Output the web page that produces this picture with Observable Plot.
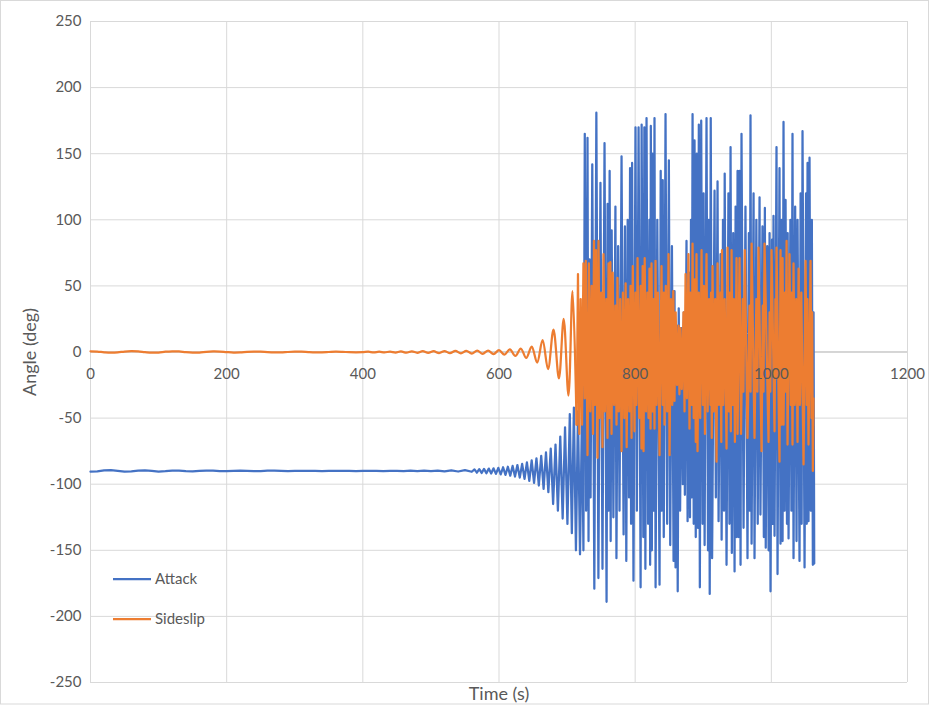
<!DOCTYPE html>
<html><head><meta charset="utf-8">
<script src="https://cdn.jsdelivr.net/npm/d3@7"></script>
<script src="https://cdn.jsdelivr.net/npm/@observablehq/plot@0.6"></script>
<style>body{margin:0;background:#fff}#chart{width:929px;height:705px}</style>
</head><body><div id="chart"></div>
<script>
const xTicks = [0, 200, 400, 600, 800, 1000, 1200];
const yTicks = [-250, -200, -150, -100, -50, 0, 50, 100, 150, 200, 250];
const seriesNames = ["Attack", "Sideslip"];
const seriesColors = ["#4472C4", "#ED7D31"];

// early quiet part, sampled every 10 s from t = 0
const earlyStep = 10;
const attackEarly = [-90.5,-90.3,-89.6,-89.4,-89.9,-90.4,-90.3,-89.8,-89.6,-90.0,-90.4,-90.2,-89.7,-89.7,-90.1,-90.3,-90.0,-89.7,-89.8,-90.2,-90.2,-89.9,-89.7,-89.9,-90.2,-90.1,-89.8,-89.8,-90.0,-90.1,-90.0,-89.9,-89.9,-90.0,-90.1,-90.0,-89.9,-90.0,-90.0,-90.1,-90.0,-89.9,-90.0,-90.1,-89.9,-90.0,-90.1,-89.8,-90.2,-89.8,-90.2,-89.7,-90.3,-89.6,-90.4,-89.4,-90.6];
const sideslipEarly = [0.5,0.3,-0.2,-0.5,-0.3,0.3,0.6,0.4,-0.1,-0.5,-0.4,0.2,0.5,0.4,-0.1,-0.4,-0.4,0.1,0.4,0.3,-0.1,-0.4,-0.3,0.1,0.3,0.2,-0.1,-0.3,-0.3,0.0,0.2,0.2,-0.1,-0.3,-0.2,0.0,0.2,0.1,-0.1,-0.2,-0.1];

// growing oscillation [time, angle]
const attackGrowth = [[564,-88.8],[567.5,-91.3],[571,-88.6],[574.5,-91.5],[578,-88.4],[581.5,-91.7],[585,-88.2],[588.5,-91.9],[592,-88.0],[595.5,-92.2],[599,-87.6],[602.5,-92.6],[606,-87.2],[609.5,-93.0],[613,-86.8],[616.5,-93.5],[620,-86.2],[623.5,-94.2],[627,-85.5],[630.5,-95],[634,-84.6],[637.5,-96],[641,-83.5],[644.5,-97.5],[648,-82],[651.5,-99],[655,-80.5],[658.5,-101],[662,-78.5],[665.5,-103.5],[669,-76],[672.5,-106],[676,-73],[679.5,-115],[683,-70],[686.5,-120],[690,-64],[693.5,-126],[697,-57],[700.5,-130],[704,-47],[707,-137],[710,-42],[713,-150],[716,-45],[719,-153],[722,-40],[724,-150]];
const sideslipGrowth = [[408,0.2],[416,-0.3],[424,0.2],[432,-0.3],[440,0.3],[448,-0.4],[456,0.4],[464,-0.5],[472,0.5],[480,-0.6],[488,0.6],[496,-0.7],[504,0.6],[512,-0.8],[520,0.7],[528,-0.9],[536,0.8],[544,-1.0],[552,0.9],[560,-1.2],[568,1.0],[576,-1.4],[584,1.1],[592,-1.6],[600,1.4],[608,-2.0],[616,2.0],[624,-3.0],[632,2.6],[640,-4.5],[648,4.0],[656,-8],[664,9],[672,-13],[680,17],[688,-20],[695,25],[702,-33],[708,46],[714,-55]];

// tumbling part [time, angle]
const attackTumble = [[726,165],[728,-120],[730,162],[731.5,-143],[733,70],[734.5,-110],[737,142],[740,-179],[743,181],[746,-171],[749,128],[752,-164],[755,158],[758,-189],[759.5,112],[761,-120],[762.5,137],[764,-143],[765.5,92],[768,-125],[771,110],[772.5,-156],[775,80],[777,-120],[780,148],[783,-138],[785,95],[787,-158],[789,100],[791,-110],[792.5,139],[794,-130],[795.5,143],[797.5,-173],[800.5,170],[802.5,-120],[805,170],[808,-178],[809.5,172],[812,-140],[813.5,170],[815,-164],[816.7,177],[819,-130],[821,100],[822,-161],[823,171],[824.5,-150],[825.5,150],[827,-120],[828.4,177],[830,-178],[832.5,100],[835.8,-176],[837.5,137],[839,-120],[840.5,130],[842,-140],[844.6,180],[847,-130],[849.5,145],[851.5,-146],[854,80],[856.4,-158],[857.8,46],[859.3,-163],[861,20],[862.5,-181],[864,33],[866,-120],[868,18],[870,-100],[871.5,30],[873,-108],[875.4,84],[877,-128],[879,60],[880.5,-125],[882,100],[883,-110],[884.3,180],[886,-130],[887.2,160],[889,-140],[890.5,150],[892,-133],[893.5,172],[895,-178],[897,175],[899,-130],[900.5,120],[902,-146],[904.8,177],[907,-150],[908.2,100],[909.5,-183],[911,177],[913,-156],[916.6,122],[918.5,-110],[921,129],[922.5,-128],[925.4,74],[927,-142],[929,100],[930.5,-120],[931.5,135],[934.2,-161],[937,120],[938.5,-130],[940.1,155],[942,-152],[944,90],[946,-166],[947.5,110],[949,-140],[950.4,137],[952,-140],[953.3,137],[954.8,-161],[956.2,165],[959.2,-133],[962,110],[965,-156],[967,90],[968.2,-120],[969.4,179],[971,-145],[973.9,120],[975.3,-156],[978,100],[980,-130],[982.7,117],[984,-123],[987,95],[989,-140],[990.5,109],[991.8,-148],[994,80],[996,-150],[997.4,90],[998.8,-181],[1001,85],[1002,-130],[1003.2,103],[1004.7,-139],[1007.6,155],[1009.1,-168],[1012,139],[1013.5,-145],[1015,100],[1016.5,-143],[1017.9,174],[1019.5,-120],[1020.9,115],[1023,-130],[1024,90],[1025.3,-141],[1028,100],[1029.5,-120],[1031.1,165],[1032.6,-156],[1035,110],[1037,-143],[1038.5,100],[1041.4,-158],[1043,120],[1044.5,-130],[1045.8,167],[1048.8,-163],[1051,120],[1052,-130],[1053.2,143],[1054.6,-128],[1056.1,147],[1058,-120],[1059.5,100],[1061,-161],[1062,30],[1063,-160]];
const sideslipTumble = [[714,-55],[716,59],[718,-62],[720,40],[722,-55],[724,67],[726,-35],[727.5,69],[730,-78],[732,67],[734,-45],[736,50],[738,-62],[739.5,84],[741,-40],[742.5,77],[744.7,-80],[746.2,84],[748,-50],[750,45],[752,-72],[753.5,74],[755.5,-45],[757.5,40],[759.4,-65],[760.9,67],[762.3,-50],[763.5,68],[765.3,-62],[767,60],[769,-40],[771,35],[772.6,-55],[774,56],[776,-45],[778,40],[780,-75],[782,45],[784,-50],[786,52],[787.5,-72],[789.5,40],[791.5,-45],[793.2,50],[794.7,-65],[796.5,65],[799,-60],[800.5,45],[802,-40],[803.5,71],[806,-50],[808,50],[809.3,-73],[811,65],[812.3,-75],[814,71],[816,-45],[818,45],[819.6,-50],[821,63],[822.6,-58],[824,67],[825.5,-45],[826.9,40],[828.4,-58],[829.9,69],[831.5,-40],[833.5,45],[835.8,-78],[838.7,65],[840.5,-40],[842,45],[843.1,-55],[845,50],[847,-45],[849,74],[850.5,-78],[852.5,40],[854.5,-40],[856,46],[857.8,-37],[859.5,30],[861.5,-25],[863.7,20],[865,-32],[866.5,18],[868.5,-28],[871,30],[872.5,-45],[874,59],[876,-35],[878.3,74],[879.8,-58],[881.5,45],[883,-40],[884.3,82],[886,-50],[887.5,55],[889,-68],[890.1,74],[891.6,-75],[893.5,45],[895.5,-50],[897.5,77],[899.5,-40],[901,50],[902.5,-62],[904.8,74],[906.5,-45],[908.5,40],[910.5,-40],[911.5,45],[912.5,-65],[913.6,65],[915.5,-45],[917.5,40],[919.5,-83],[921,67],[923,-40],[925,45],[926.5,-68],[927.5,77],[929.5,-40],[931.5,40],[934.2,-73],[935.7,79],[937.5,-45],[939,45],[940.5,-60],[941.6,77],[943.5,-40],[945,40],[946.5,-68],[948.9,71],[950.4,-62],[953.3,71],[955.5,-62],[958,40],[959,-30],[961,77],[965,-65],[968,35],[969.5,-30],[971,82],[975.3,-65],[978,40],[979.5,-30],[981.2,79],[985.6,-75],[987.5,35],[988.5,-30],[990,82],[995.9,-68],[997.5,30],[998.5,-30],[1000.3,77],[1004.7,-60],[1006,40],[1006.8,-20],[1007.6,79],[1012,-83],[1013.5,77],[1015,-55],[1016.5,71],[1017.9,-55],[1020,45],[1021,-30],[1022.4,84],[1023.8,-70],[1026.7,74],[1028.5,-40],[1029.8,45],[1031.1,-70],[1032.6,67],[1034.5,-40],[1036.5,40],[1038.5,-68],[1040,63],[1042,-40],[1044,45],[1047.3,-85],[1050.3,69],[1052,-40],[1053,40],[1054.6,-70],[1057.6,69],[1059,-50],[1060,30],[1061,-90],[1062,-35]];

const toRows = pairs => pairs.map(([t, v]) => ({t, v}));
const earlyRows = vals => vals.map((v, i) => ({t: i * earlyStep, v}));

const attackRows = [...earlyRows(attackEarly), ...toRows(attackGrowth), ...toRows(attackTumble)];
const sideSmooth = [...earlyRows(sideslipEarly), ...toRows(sideslipGrowth)];
const sideTumble = toRows(sideslipTumble);

const font = "Lato, 'Open Sans', sans-serif";
const grey = "#595959";

const chart = Plot.plot({
  width: 929, height: 705,
  marginLeft: 90, marginRight: 22, marginTop: 21, marginBottom: 23,
  x: {domain: [0, 1200], axis: null},
  y: {domain: [-250, 250], axis: null},
  style: {fontFamily: font, background: "#fff", color: grey},
  marks: [
    Plot.gridX(xTicks, {stroke: "#d9d9d9", strokeOpacity: 1, strokeWidth: 1}),
    Plot.gridY(yTicks, {stroke: "#d9d9d9", strokeOpacity: 1, strokeWidth: 1}),
    Plot.ruleY([0], {stroke: "#bfbfbf", strokeWidth: 1}),
    Plot.line(attackRows, {x: "t", y: "v", stroke: seriesColors[0], strokeWidth: 2.25}),
    Plot.line(sideSmooth, {x: "t", y: "v", stroke: seriesColors[1], strokeWidth: 2.25, curve: "catmull-rom"}),
    Plot.line(sideTumble, {x: "t", y: "v", stroke: seriesColors[1], strokeWidth: 2.25}),
    Plot.text(xTicks, {x: d => d, y: d => 0, dy: 22, text: d => String(d), fill: grey, fontSize: 15}),
    Plot.text(yTicks, {y: d => d, frameAnchor: "left", dx: -9, textAnchor: "end", text: d => String(d), fill: grey, fontSize: 15}),
    Plot.text(["Angle (deg)"], {frameAnchor: "left", dx: -60, rotate: -90, textAnchor: "middle", lineAnchor: "middle", fill: grey, fontSize: 18}),
    Plot.text(["Time (s)"], {frameAnchor: "bottom", dy: 12, textAnchor: "middle", lineAnchor: "middle", fill: grey, fontSize: 18})
  ]
});

const svg = d3.select(chart);
svg.insert("rect", ":first-child").attr("x", 0).attr("y", 0).attr("width", 929).attr("height", 705)
  .attr("fill", "#fff").attr("stroke", "none");
svg.append("rect").attr("x", 0.5).attr("y", 0.5).attr("width", 928).attr("height", 703.5)
  .attr("fill", "none").attr("stroke", "#d9d9d9");
const leg = svg.append("g").attr("font-family", font).attr("font-size", 15).attr("fill", grey).attr("text-anchor", "start");
seriesNames.forEach((name, i) => {
  const y = 579 + i * 40;
  leg.append("line").attr("x1", 113).attr("x2", 151).attr("y1", y).attr("y2", y)
    .attr("stroke", seriesColors[i]).attr("stroke-width", 2.25);
  leg.append("text").attr("x", 155).attr("y", y).attr("dy", "0.35em").attr("text-anchor", "start").text(name);
});
document.getElementById("chart").appendChild(chart);
</script></body></html>
